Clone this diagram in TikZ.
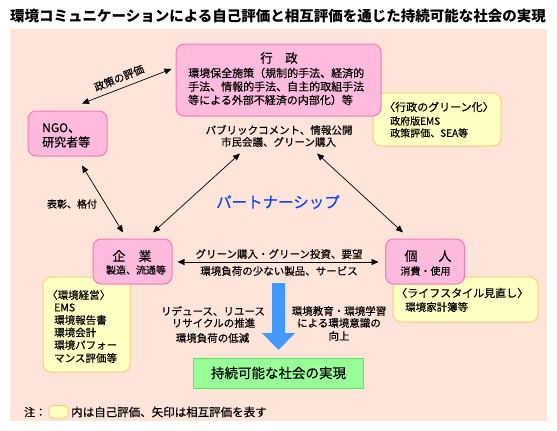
\documentclass[tikz,border=0pt]{standalone}
\usepackage{fontspec}
\setmainfont[FakeBold=0.35]{Noto Sans CJK JP}
\newfontfamily\titlefont{Noto Sans CJK JP}
\usetikzlibrary{arrows.meta}
\definecolor{bgc}{HTML}{FFE4D9}
\definecolor{pinkf}{HTML}{FFBBDD}
\definecolor{pinkd}{HTML}{FF77BB}
\definecolor{yelf}{HTML}{FFFFC4}
\definecolor{yeld}{HTML}{FFCC77}
\definecolor{grnf}{HTML}{99FF99}
\definecolor{grnd}{HTML}{55EE55}
\definecolor{bluearr}{HTML}{4499FF}
\definecolor{bluetxt}{HTML}{1144EE}
\newcommand{\fs}[1]{\fontsize{#1}{#1}\selectfont}
\tikzset{
  pinkbox/.style={draw=pinkd, fill=pinkf, line width=1pt, rounded corners=8pt, inner sep=0pt},
  yelbox/.style={draw=yeld, fill=yelf, line width=1pt, rounded corners=8pt, inner sep=0pt},
  grnbox/.style={draw=grnd, fill=grnf, line width=1pt, inner sep=0pt},
  arr/.style={{Triangle[length=7pt,width=6pt]}-{Triangle[length=7pt,width=6pt]}, line width=0.7pt},
  txt/.style={inner sep=0pt, font=\fs{10.5}},
  lt/.style={txt, anchor=west},
}
\begin{document}
\begin{tikzpicture}[x=1pt,y=-1pt]
\useasboundingbox (0,0) rectangle (557,431);
\fill[bgc] (10,29) rectangle (547,421);
% title
\node[inner sep=0pt, font=\titlefont\fs{14.5}\bfseries] (title) at (278,16) {環境コミュニケーションによる自己評価と相互評価を通じた持続可能な社会の実現};
% yellow boxes (behind)
\node[yelbox, minimum width=128pt, minimum height=53pt] (ygyosei) at (437,119.5) {};
\node[yelbox, minimum width=87pt, minimum height=95pt] (ykigyo) at (86.5,324.5) {};
\node[yelbox, minimum width=145pt, minimum height=45pt] (ykojin) at (465.5,299.5) {};
% pink boxes
\node[pinkbox, minimum width=205pt, minimum height=72pt] (gyosei) at (278.5,80) {};
\node[pinkbox, minimum width=79pt, minimum height=45pt] (ngo) at (67.5,133.5) {};
\node[pinkbox, minimum width=79pt, minimum height=45pt] (kigyo) at (132.5,261.5) {};
\node[pinkbox, minimum width=79pt, minimum height=45pt] (kojin) at (425,261.5) {};
% green box
\node[grnbox, minimum width=170pt, minimum height=30pt] (goal) at (278,373) {};
% blue arrow
\fill[bluearr] (272,283) -- (285,283) -- (285,333) -- (295,333) -- (278.5,350) -- (262,333) -- (272,333) -- cycle;
% connectors
\draw[arr] ([shift={(14.5,-7)}]ngo.north) -- ([shift={(-4,-11)}]gyosei.west);
\draw[arr] ([shift={(14.5,9)}]ngo.south) -- ([shift={(-9.5,-6)}]kigyo.north);
\draw[arr] ([shift={(-38.5,37)}]gyosei.south) -- ([shift={(20.5,-6)}]kigyo.north);
\draw[arr] ([shift={(38.5,37)}]gyosei.south) -- ([shift={(-22,-6)}]kojin.north);
\draw[arr] ([shift={(5,0.5)}]kigyo.east) -- ([shift={(-6.5,0.5)}]kojin.west);
% gyosei texts
\node[txt, font=\fs{12.5}] (tg0) at (279,58) {行　政};
\node[lt, font=\fs{11}] (tg1) at (188,73) {環境保全施策（規制的手法、経済的};
\node[lt, font=\fs{11}] (tg2) at (188,86.5) {手法、情報的手法、自主的取組手法};
\node[lt, font=\fs{11}] (tg3) at (188,100) {等による外部不経済の内部化）等};
\node[txt] (pc1) at (279,130) {パブリックコメント、情報公開};
\node[txt] (pc2) at (278.5,142) {市民会議、グリーン購入};
% ngo
\node[lt, font=\fs{12}] (tn1) at (42,128) {NGO、};
\node[lt, font=\fs{12}] (tn2) at (42,142) {研究者等};
\node[txt, rotate=22] (hyoka) at (119,78) {政策の評価};
\node[txt, font=\fs{10}] (hyosho) at (72,204) {表彰、格付};
% yellow gyosei
\node[lt, font=\fs{11}] (yg1) at (384,107) {〈行政のグリーン化〉};
\node[lt, font=\fs{10}] (yg2) at (390,121) {政府版EMS};
\node[lt, font=\fs{10}] (yg3) at (390,133) {政策評価、SEA等};
% partnership
\node[txt, font=\fs{15.5}, text=bluetxt] (pship) at (278,202) {パートナーシップ};
% kigyo / kojin
\node[txt, font=\fs{13}] (tk1) at (132,256) {企　業};
\node[txt, font=\fs{10}] (tk2) at (136,270) {製造、流通等};
\node[txt, font=\fs{13}] (tj1) at (428,256) {個\hspace{1.6em}人};
\node[txt, font=\fs{10}] (tj2) at (425.5,271) {消費・使用};
\node[txt] (h1) at (279,254) {グリーン購入・グリーン投資、要望};
\node[txt] (h2) at (279,271) {環境負荷の少ない製品、サービス};
% yellow kigyo
\node[lt] (yk1) at (47,295) {〈環境経営〉};
\node[lt] (yk2) at (54,307.5) {EMS};
\node[lt] (yk3) at (54,320) {環境報告書};
\node[lt] (yk4) at (54,332.5) {環境会計};
\node[lt] (yk5) at (54,345) {環境パフォー};
\node[lt] (yk6) at (54,358) {マンス評価等};
% yellow kojin
\node[lt, font=\fs{11}] (yj1) at (396,293) {〈ライフスタイル見直し〉};
\node[lt] (yj2) at (405,307) {環境家計簿等};
% middle texts
\node[txt] (l1) at (213,311) {リデュース、リユース};
\node[txt] (l2) at (213.5,323) {リサイクルの推進};
\node[txt] (l3) at (212.5,338) {環境負荷の低減};
\node[txt] (r1) at (339,311) {環境教育・環境学習};
\node[txt] (r2) at (339,323) {による環境意識の};
\node[txt] (r3) at (339,336) {向上};
\node[txt, font=\fs{13.5}] (tgoal) at (278.5,373) {持続可能な社会の実現};
% footnote
\node[lt, font=\fs{11}] (fn1) at (24,412) {注：};
\draw[yeld, fill=yelf, line width=1pt, rounded corners=4pt] (49,405.5) rectangle (68,418);
\node[lt, font=\fs{11.5}] (fn2) at (71,412) {内は自己評価、矢印は相互評価を表す};
\end{tikzpicture}
\end{document}
